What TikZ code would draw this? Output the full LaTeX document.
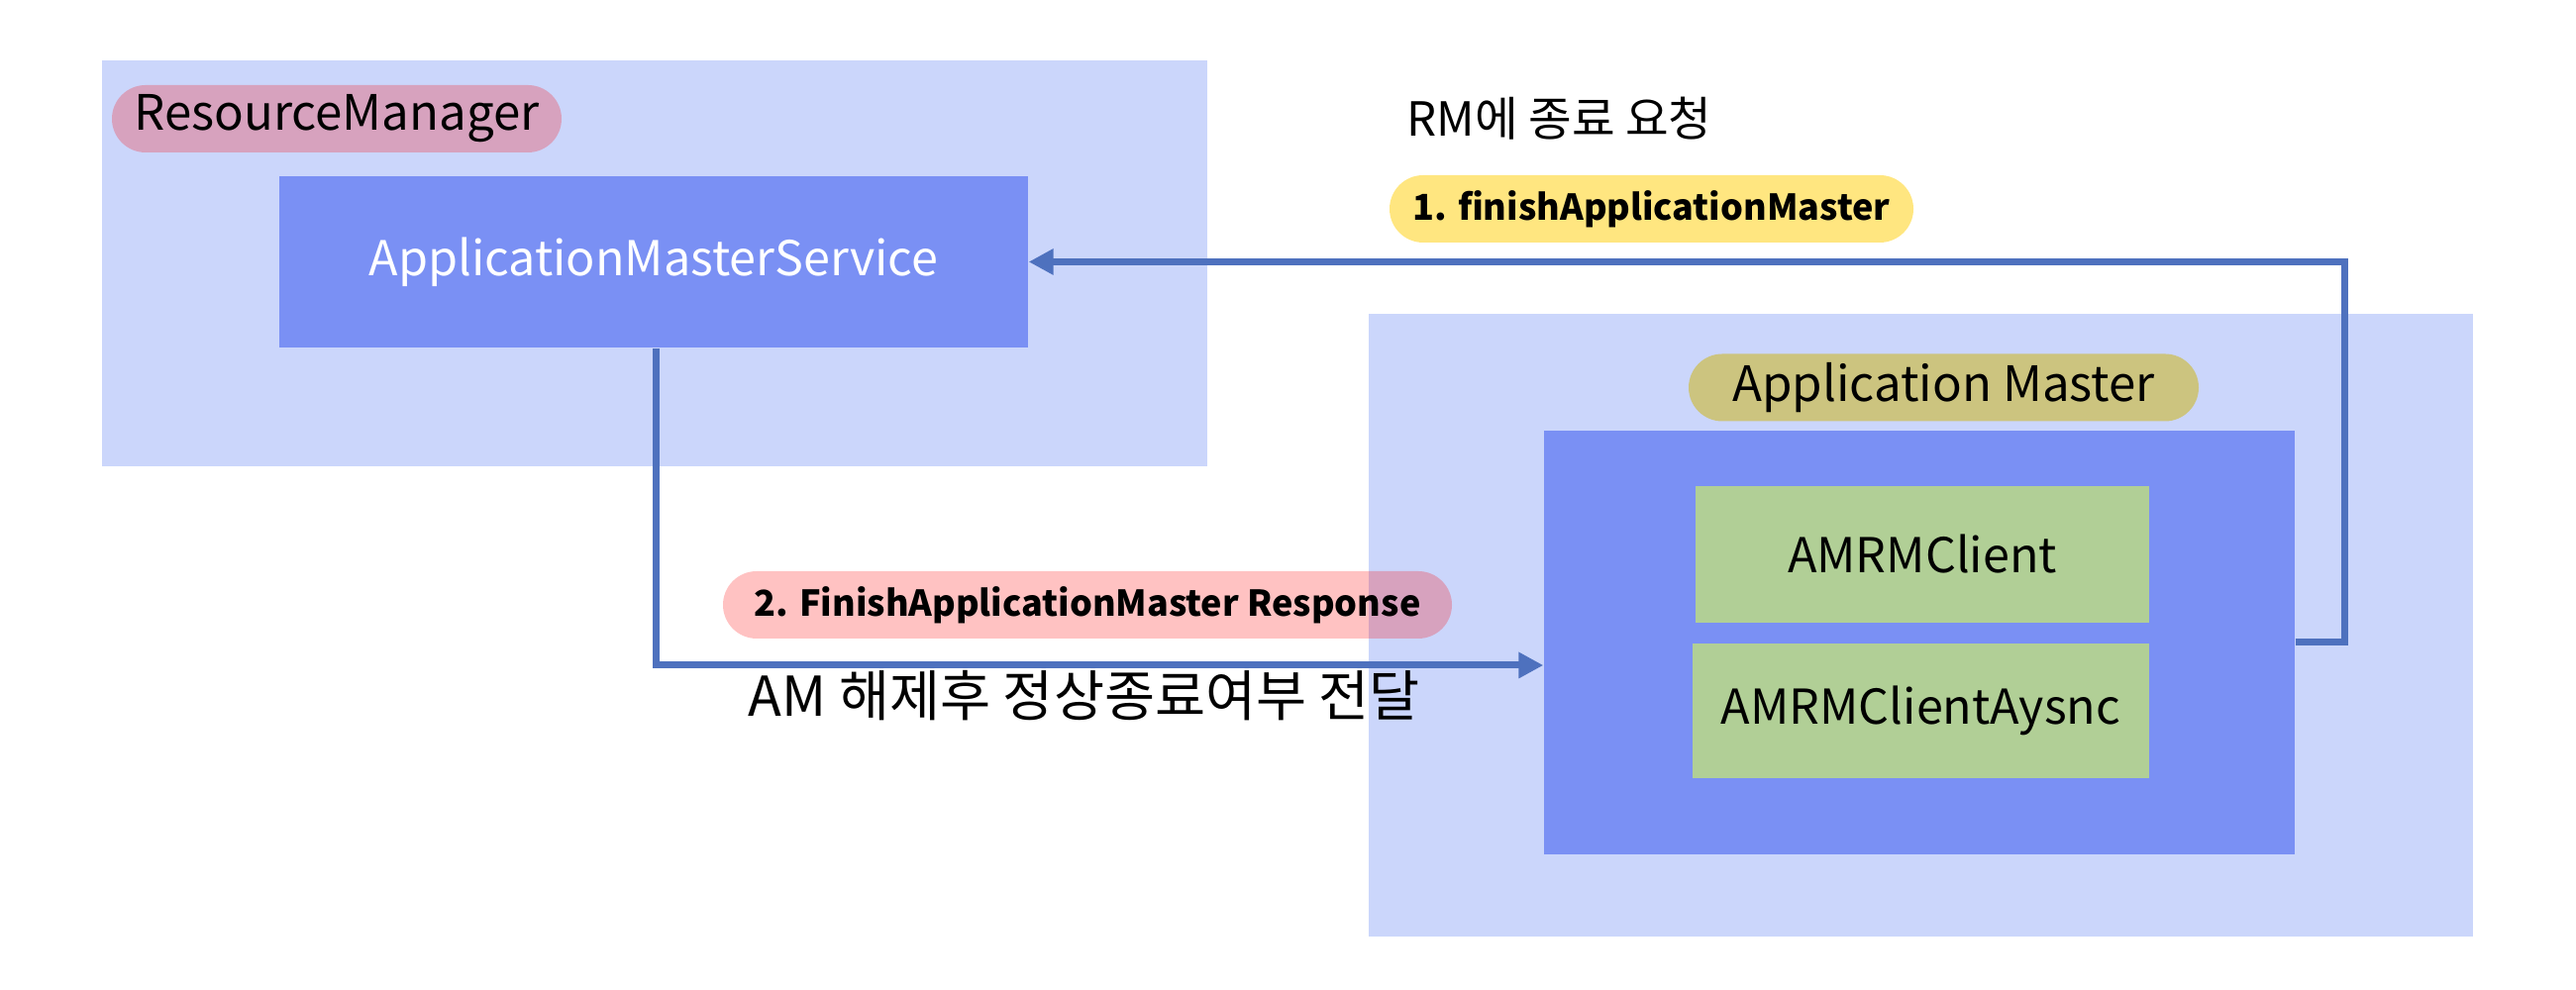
\documentclass[tikz,border=0pt]{standalone}
\usepackage{fontspec}
\setmainfont{Noto Sans CJK KR}
\usetikzlibrary{arrows.meta}
\definecolor{outerblue}{HTML}{CBD6FB}
\definecolor{innerblue}{HTML}{7A90F4}
\definecolor{conncol}{HTML}{4E71BE}
\definecolor{pillyellow}{HTML}{FFE680}
\definecolor{pillolive}{HTML}{CCC47F}
\definecolor{boxgreen}{HTML}{B1CF96}
\tikzset{
  region/.style={fill=outerblue, draw=none, inner sep=0pt},
  bluebox/.style={fill=innerblue, draw=none, inner sep=0pt, text=white, font=\fontsize{13.8}{16}\selectfont},
  greenbox/.style={fill=boxgreen, draw=none, inner sep=0pt, font=\fontsize{13.8}{16}\selectfont},
  pill/.style={draw=none, inner sep=0pt, rounded corners=0.34cm, minimum height=0.68cm},
  pilltext/.style={font=\fontsize{14}{16}\selectfont},
  steplabel/.style={font=\bfseries\fontsize{10.25}{12}\selectfont},
  hand/.style={font=\fontsize{13.5}{15}\selectfont},
  conn/.style={draw=conncol, line width=0.07cm, -{Triangle[length=0.25cm,width=0.25cm]}}
}
\begin{document}
\begin{tikzpicture}
\useasboundingbox (0,0) rectangle (26.01,10);
% Resource manager region
\node[region, minimum width=11.16cm, minimum height=4.10cm] (rm) at (6.61,7.34) {};
\node[pill, fill=red, fill opacity=0.24, text opacity=1, minimum width=4.54cm, pilltext] (rmlabel) at (3.40,8.80) {ResourceManager};
\node[bluebox, minimum width=7.56cm, minimum height=1.73cm] (ams) at (6.60,7.355) {ApplicationMasterService};
% Application master region
\node[region, minimum width=11.15cm, minimum height=6.29cm] (am) at (19.395,3.685) {};
\node[pill, fill=pillolive, minimum width=5.15cm, pilltext] (amlabel) at (19.625,6.085) {Application Master};
\node[bluebox, minimum width=7.58cm, minimum height=4.28cm] (aminner) at (19.38,3.51) {};
\node[greenbox, minimum width=4.58cm, minimum height=1.38cm] (client) at (19.41,4.40) {AMRMClient};
\node[greenbox, minimum width=4.61cm, minimum height=1.36cm] (clientasync) at (19.395,2.82) {AMRMClientAysnc};
% labels
\node[pill, fill=pillyellow, minimum width=5.29cm, steplabel] (lab1) at (16.675,7.89) {1. finishApplicationMaster};
\node[hand] (note1) at (15.745,8.805) {RM에 종료 요청};
% connectors
\draw[conn] (aminner.east) -- ++(0.5,0) |- (ams.east);
\coordinate (turn) at (6.62,3.28);
\draw[conn] (ams.south -| turn) -- (turn) -- (turn -| aminner.west);
\node[pill, fill=red, fill opacity=0.24, text opacity=1, minimum width=7.36cm, steplabel] (lab2) at (10.98,3.89) {2. FinishApplicationMaster Response};
\node[hand, font=\fontsize{15.8}{18}\selectfont] (note2) at (10.95,2.975) {AM 해제후 정상종료여부 전달};
\end{tikzpicture}
\end{document}
